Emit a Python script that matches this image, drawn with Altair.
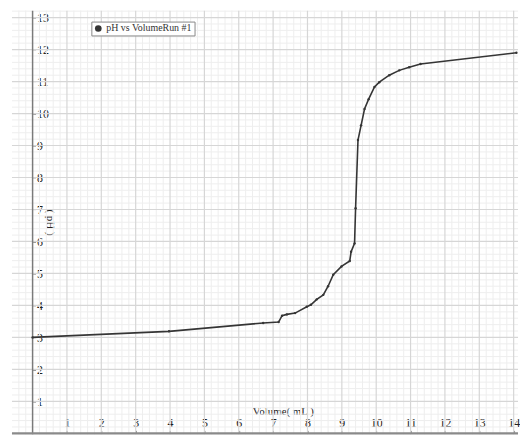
import altair as alt
import numpy as np
import pandas as pd

# Titration data
volume_ml = [0.0, 3.97, 6.71, 7.16, 7.26, 7.40, 7.64, 7.98, 8.10, 8.27, 8.46, 8.60,
             8.75, 8.99, 9.23, 9.27, 9.37, 9.40, 9.47, 9.56, 9.66, 9.78, 9.95, 10.09,
             10.38, 10.67, 10.96, 11.29, 14.08]
ph_values = [3.00, 3.19, 3.45, 3.48, 3.68, 3.72, 3.76, 3.96, 4.02, 4.19, 4.33, 4.60,
             4.96, 5.22, 5.39, 5.68, 5.94, 7.04, 9.17, 9.63, 10.14, 10.45, 10.83, 10.98,
             11.20, 11.35, 11.45, 11.55, 11.90]
series_name = "pH vs VolumeRun #1"
x_ticks = list(range(1, 15))
y_ticks = list(range(1, 14))

FONT = "Liberation Serif"
X_DOMAIN = [-0.6, 14.127]
Y_DOMAIN = [-0.031, 13.217]
W, H = 510, 427

df = pd.DataFrame({"vol": volume_ml, "ph": ph_values, "series": series_name})

xs = alt.Scale(domain=X_DOMAIN, nice=False, zero=False)
ys = alt.Scale(domain=Y_DOMAIN, nice=False, zero=False)

x0_px = (0 - X_DOMAIN[0]) / (X_DOMAIN[1] - X_DOMAIN[0]) * W
y0_px = (Y_DOMAIN[1] - 0) / (Y_DOMAIN[1] - Y_DOMAIN[0]) * H

x_axis = alt.Axis(orient="top", offset=-y0_px, values=x_ticks, grid=False, domain=False,
                  tickSize=3, tickColor="#888888", labelPadding=1, labelFont=FONT,
                  labelFontSize=12, labelColor="#222222", title="Volume( mL )",
                  titleFont=FONT, titleFontSize=11, titleFontWeight="normal",
                  titleColor="#222222", titleX=273, titlePadding=0)
y_axis = alt.Axis(orient="right", offset=-(W - x0_px), values=y_ticks, grid=False,
                  domain=False, tickSize=3, tickColor="#888888", labelPadding=1,
                  labelFont=FONT, labelFontSize=12, labelColor="#222222",
                  title="( pH )", titleFont=FONT, titleFontSize=11,
                  titleFontWeight="normal", titleColor="#222222", titleAngle=90,
                  titleX=12, titleY=213)

# grid values (minor every 0.2, major every 1)
gx = [round(v, 1) for v in np.arange(-0.4, 14.13, 0.2)]
gy = [round(v, 1) for v in np.arange(0.0, 13.25, 0.2)]
gx_minor = pd.DataFrame({"vol": [v for v in gx if abs(v - round(v)) > 1e-6]})
gy_minor = pd.DataFrame({"ph": [v for v in gy if abs(v - round(v)) > 1e-6]})
gx_major = pd.DataFrame({"vol": [float(v) for v in gx if abs(v - round(v)) < 1e-6 and v != 0]})
gy_major = pd.DataFrame({"ph": [float(v) for v in gy if abs(v - round(v)) < 1e-6 and v != 0]})

X = alt.X("vol:Q", scale=xs, axis=x_axis, title="Volume( mL )")
Y = alt.Y("ph:Q", scale=ys, axis=y_axis, title="( pH )")

minor_v = alt.Chart(gx_minor).mark_rule(color="#eeeeee", strokeWidth=1).encode(x=X)
minor_h = alt.Chart(gy_minor).mark_rule(color="#eeeeee", strokeWidth=1).encode(y=Y)
major_v = alt.Chart(gx_major).mark_rule(color="#d6d6d6", strokeWidth=1.2).encode(x=X)
major_h = alt.Chart(gy_major).mark_rule(color="#d6d6d6", strokeWidth=1.2).encode(y=Y)

y_axis_line = alt.Chart(pd.DataFrame({"vol": [0.0]})).mark_rule(
    color="#7a7a7a", strokeWidth=1.5).encode(x=X)
x_axis_line = alt.Chart(pd.DataFrame({"ph": [0.0]})).mark_rule(
    color="#8a8a8a", strokeWidth=2.2).encode(y=Y)

line = alt.Chart(df).mark_line(color="#353535", strokeWidth=1.6).encode(x=X, y=Y)
points = alt.Chart(df).mark_point(filled=True, size=6, opacity=1).encode(
    x=X, y=Y,
    color=alt.Color("series:N", scale=alt.Scale(range=["#353535"]),
                    legend=alt.Legend(orient="none", legendX=80, legendY=11, title=None,
                                      strokeColor="#888888", fillColor="white", padding=2,
                                      symbolType="circle", symbolSize=45,
                                      labelFont=FONT, labelFontSize=10,
                                      labelColor="#333333", labelOffset=3)),
)

chart = alt.layer(minor_v, minor_h, major_v, major_h, y_axis_line, x_axis_line,
                  line, points).properties(
    width=W, height=H, padding={"left": 2, "top": 0, "right": 0, "bottom": 0},
    background="white",
).configure_view(stroke=None)

chart.save("out.html", embed_options={"renderer": "svg", "actions": False})
